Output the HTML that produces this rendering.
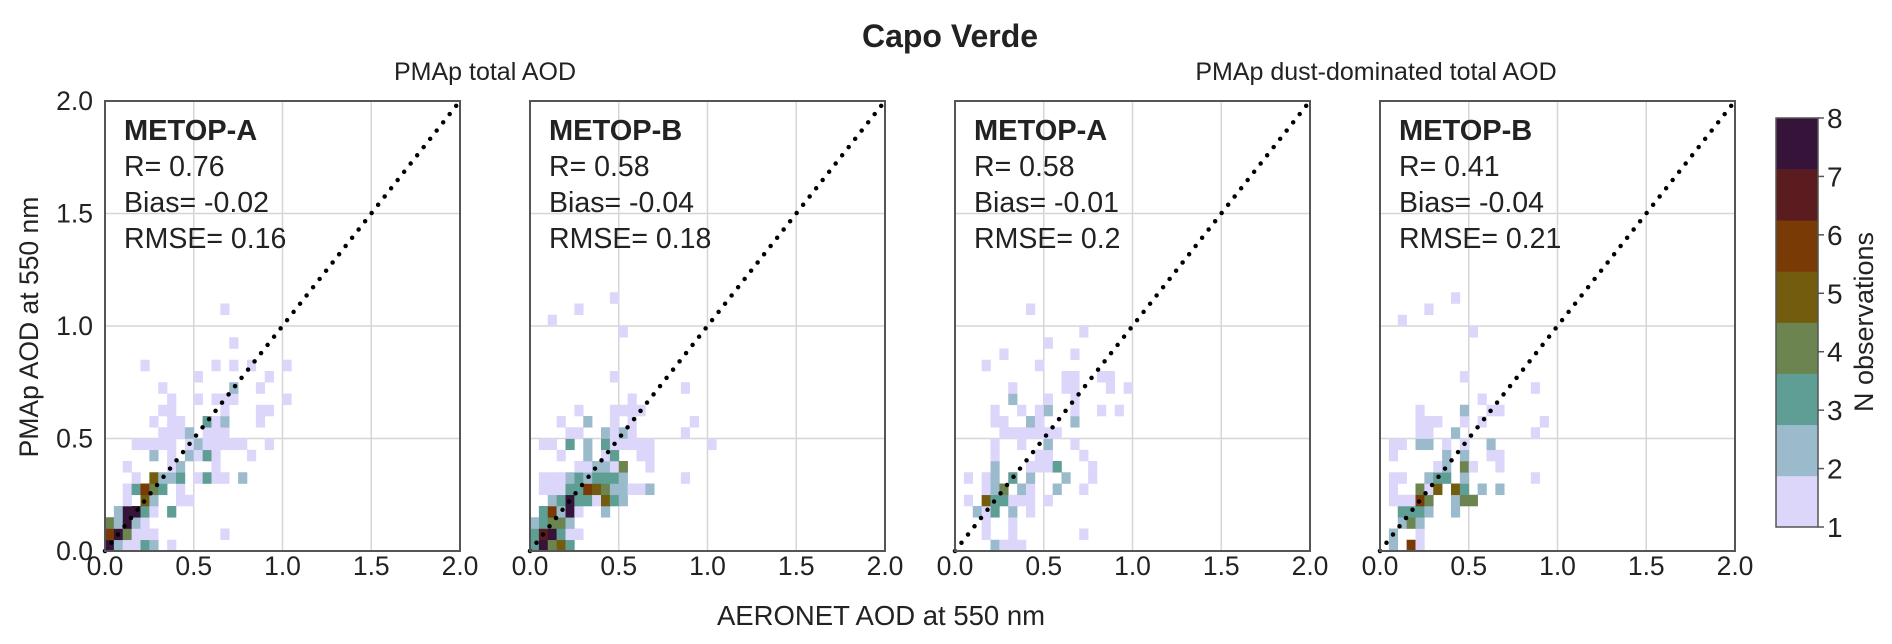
<!DOCTYPE html>
<html><head><meta charset="utf-8"><style>
body{margin:0;background:#fff;}
svg{display:block;font-family:"Liberation Sans",Arial,sans-serif;}
</style></head><body>
<svg id="fig" width="1892" height="644" viewBox="0 0 1892 644" xmlns="http://www.w3.org/2000/svg">
<text x="950" y="47" font-size="32" font-weight="bold" text-anchor="middle" fill="#222">Capo Verde</text>
<text x="485" y="80" font-size="25" text-anchor="middle" fill="#222">PMAp total AOD</text>
<text x="1376" y="80" font-size="25" text-anchor="middle" fill="#222">PMAp dust-dominated total AOD</text>
<text x="881" y="625" font-size="27.5" text-anchor="middle" fill="#222">AERONET AOD at 550 nm</text>
<text transform="translate(38,327) rotate(-90)" font-size="26.5" text-anchor="middle" fill="#222">PMAp AOD at 550 nm</text>
<g id="panels"></g>
<g id="cbar"></g>
</svg>
<script>
const binSize = 0.05;
const axisTicks = [0, 0.5, 1.0, 1.5, 2.0];
const tickLabels = ["0.0", "0.5", "1.0", "1.5", "2.0"];
const panelSats = ["METOP-A", "METOP-B", "METOP-A", "METOP-B"];
const panelR = ["0.76", "0.58", "0.58", "0.41"];
const panelBias = ["-0.02", "-0.04", "-0.01", "-0.04"];
const panelRMSE = ["0.16", "0.18", "0.2", "0.21"];
const cbarLevels = [1,2,3,4,5,6,7,8];
const cbarColors = ["#dcd6fb","#9bbbcd","#5f9e94","#6b8450","#735c0e","#7a3a05","#5a1c1e","#36143a"];
// cells: [x-bin index, y-bin index, count]
const cellsP1 = [[0,0,8],[1,0,2],[2,0,1],[3,0,1],[4,0,3],[5,0,2],[7,0,1],
[0,1,6],[1,1,8],[2,1,4],[3,1,1],[4,1,1],[5,1,1],[13,1,1],
[0,2,4],[1,2,2],[2,2,8],[3,2,2],[4,2,1],
[1,3,2],[2,3,8],[3,3,8],[4,3,3],[5,3,1],[7,3,3],
[2,4,1],[4,4,5],[5,4,2],[8,4,1],[9,4,1],
[2,5,1],[3,5,3],[4,5,6],[5,5,4],[6,5,3],[8,5,1],
[3,6,1],[5,6,5],[6,6,2],[7,6,2],[8,6,3],[10,6,1],[11,6,3],[12,6,1],[13,6,1],[15,6,2],
[2,7,1],[7,7,1],[8,7,2],[12,7,1],
[5,8,2],[7,8,1],[9,8,2],[10,8,1],[11,8,3],[12,8,1],[16,8,1],
[3,9,1],[4,9,1],[5,9,1],[6,9,1],[7,9,1],[9,9,1],[10,9,2],[11,9,1],[12,9,1],[13,9,1],[14,9,1],[15,9,1],[18,9,1],
[6,10,1],[7,10,1],[8,10,1],[9,10,2],[11,10,1],[12,10,1],[13,10,1],
[5,11,1],[7,11,1],[8,11,1],[11,11,3],[12,11,1],[13,11,2],[17,11,1],
[6,12,1],[7,12,1],[13,12,1],[17,12,1],[18,12,1],
[7,13,1],[10,13,1],[12,13,1],[13,13,1],[14,13,1],[20,13,1],
[6,14,1],[14,14,2],[17,14,1],
[10,15,1],[18,15,1],
[4,16,1],[12,16,1],[14,16,1],[16,16,1],[20,16,1],
[14,18,1],[13,21,1]];
const cellsP2 = [[0,0,3],[1,0,8],[2,0,4],[3,0,5],[4,0,3],
[0,1,3],[1,1,7],[2,1,8],[3,1,3],[4,1,1],[5,1,1],
[0,2,2],[1,2,3],[2,2,4],[3,2,4],[4,2,2],
[1,3,3],[2,3,6],[3,3,2],[4,3,8],[5,3,1],[8,3,2],
[2,4,2],[3,4,3],[4,4,8],[5,4,3],[6,4,3],[7,4,1],[8,4,5],[9,4,3],[10,4,2],
[1,5,1],[2,5,1],[3,5,1],[4,5,3],[5,5,3],[6,5,6],[7,5,5],[8,5,4],[9,5,2],[10,5,2],[11,5,1],[12,5,1],[13,5,2],
[1,6,1],[2,6,1],[3,6,1],[4,6,2],[5,6,3],[6,6,2],[7,6,3],[8,6,3],[9,6,3],[10,6,2],[17,6,1],
[5,7,1],[6,7,1],[7,7,2],[8,7,2],[9,7,1],[10,7,4],[13,7,1],
[3,8,1],[6,8,2],[8,8,1],[9,8,3],[12,8,1],[13,8,1],
[1,9,1],[2,9,1],[4,9,3],[6,9,2],[8,9,3],[9,9,1],[10,9,1],[11,9,1],[12,9,1],[13,9,1],[20,9,1],
[4,10,1],[5,10,1],[8,10,2],[9,10,1],[10,10,2],[11,10,1],[17,10,1],
[3,11,1],[6,11,2],[9,11,1],[11,11,1],[18,11,1],
[5,12,1],[9,12,1],[10,12,1],[11,12,1],[12,12,1],
[11,13,1],[17,14,1],[9,15,1],[10,19,1],[2,20,1],[5,21,1],[9,22,1]];
const cellsP3 = [[4,0,2],[5,0,1],[6,0,1],[7,0,1],
[3,1,1],[6,1,1],[14,1,1],
[3,2,1],[6,2,1],
[2,3,2],[3,3,1],[4,3,3],[6,3,2],[8,3,1],
[1,4,1],[3,4,5],[4,4,3],[5,4,3],[6,4,1],[7,4,1],[8,4,1],[10,4,1],
[3,5,1],[4,5,2],[5,5,4],[7,5,2],[8,5,1],[11,5,2],[14,5,1],
[1,6,1],[3,6,1],[4,6,2],[6,6,3],[8,6,2],[12,6,2],[15,6,1],
[4,7,2],[8,7,1],[9,7,1],[10,7,1],[11,7,3],[15,7,1],
[4,8,1],[9,8,1],[10,8,1],[14,8,1],
[4,9,1],[7,9,1],[10,9,2],[13,9,1],
[5,10,1],[6,10,1],[7,10,1],[8,10,1],[9,10,1],[10,10,1],[11,10,1],
[4,11,1],[5,11,1],[8,11,2],[9,11,1],[13,11,2],
[4,12,1],[7,12,1],[9,12,1],[10,12,2],[13,12,1],[16,12,1],[18,12,1],
[6,13,2],[10,13,1],[13,13,1],
[6,14,1],[12,14,1],[13,14,1],[17,14,1],[19,14,1],
[12,15,1],[13,15,1],[16,15,1],[17,15,1],
[3,16,1],[9,16,1],[5,17,1],[13,17,1],[10,18,1],[14,19,1],[8,21,1]];
const cellsP4 = [[1,0,2],[3,0,6],[4,0,1],
[1,1,2],[4,1,1],
[2,2,2],[3,2,4],[4,2,2],
[2,3,3],[3,3,3],[4,3,3],[5,3,2],[8,3,2],
[1,4,1],[2,4,1],[3,4,1],[4,4,6],[5,4,4],[8,4,2],[9,4,4],[10,4,4],
[1,5,1],[4,5,4],[5,5,1],[6,5,5],[8,5,5],[9,5,3],[11,5,2],[13,5,2],
[1,6,1],[2,6,1],[5,6,2],[6,6,3],[7,6,3],[9,6,2],[17,6,1],
[6,7,1],[7,7,2],[9,7,4],[10,7,1],[13,7,1],
[1,8,1],[7,8,2],[9,8,2],[12,8,1],[13,8,1],
[1,9,1],[2,9,1],[4,9,2],[5,9,2],[7,9,1],[9,9,1],[12,9,2],
[4,10,1],[5,10,1],[8,10,2],[17,10,1],
[4,11,1],[5,11,1],[6,11,1],[9,11,1],[11,11,1],[18,11,1],
[4,12,1],[9,12,2],[12,12,1],[13,12,1],
[11,13,1],[17,14,1],[9,15,1],[10,19,1],[2,20,1],[5,21,1],[8,22,1]];
const panelCells = [cellsP1, cellsP2, cellsP3, cellsP4];

const NS = "http://www.w3.org/2000/svg";
function mk(tag, attrs, parent){const e=document.createElementNS(NS,tag);for(const k in attrs)e.setAttribute(k,attrs[k]);parent.appendChild(e);return e;}
const panelLefts = [105, 530, 955, 1380];
const PW = 355, PT = 101, PB = 551, PH = PB-PT;
const VMAX = 2.0;
const root = document.getElementById('panels');
panelLefts.forEach((L, p) => {
  const xs = v => L + v / VMAX * PW;
  const ys = v => PB - v / VMAX * PH;
  const g = mk('g', {}, root);
  
  
  axisTicks.forEach((t, k) => {
    if (k > 0 && k < axisTicks.length-1) {
      const gx = mk('line', {x1:xs(t), x2:xs(t), y1:PT, y2:PB, stroke:'#d6d6d6', 'stroke-width':1.5}, g);
      
      
      const gy = mk('line', {x1:L, x2:L+PW, y1:ys(t), y2:ys(t), stroke:'#d6d6d6', 'stroke-width':1.5}, g);
      
      
    }
    const tx = mk('text', {x:xs(t), y:575, 'font-size':26.5, 'text-anchor':'middle', fill:'#222'}, g);
    tx.textContent = tickLabels[k];
    
    
    if (p === 0) {
      const ty = mk('text', {x:L-12, y:ys(t)+9, 'font-size':26.5, 'text-anchor':'end', fill:'#222'}, g);
      ty.textContent = tickLabels[k];
      
      
    }
  });
  panelCells[p].forEach(c => {
    const x0 = c[0]*binSize, y0 = c[1]*binSize;
    const r = mk('rect', {x:xs(x0), y:ys(y0+binSize), width:xs(x0+binSize)-xs(x0)+0.3, height:ys(y0)-ys(y0+binSize)+0.3, fill:cbarColors[Math.min(c[2],8)-1]}, g);
    
    
  });
  const d = mk('line', {x1:xs(0), y1:ys(0), x2:xs(2), y2:ys(2), stroke:'#000', 'stroke-width':4.5, 'stroke-linecap':'round', 'stroke-dasharray':'0 10.5'}, g);
  
  
  const fr = mk('rect', {x:L, y:PT, width:PW, height:PH, fill:'none', stroke:'#555', 'stroke-width':2}, g);
  
  
  const lines = [panelSats[p], 'R= ' + panelR[p], 'Bias= ' + panelBias[p], 'RMSE= ' + panelRMSE[p]];
  const names = ['satellite-label','r-stat','bias-stat','rmse-stat'];
  lines.forEach((s, k) => {
    const t = mk('text', {x:L+19, y:PT+39+k*36, 'font-size':k===0?29:28.5, 'font-weight':k===0?'bold':'normal', fill:'#222'}, g);
    t.textContent = s;
    
    
  });
});
// colorbar
const cb = document.getElementById('cbar');
const CX = 1776, CW = 42, CT = 118, CB = 527;
const cy = v => CB - (v-1)/7*(CB-CT);
const nb = cbarColors.length;
cbarColors.forEach((col, k) => {
  const h = (CB-CT)/nb;
  const r = mk('rect', {x:CX, y:CB-(k+1)*h, width:CW, height:h+0.3, fill:col}, cb);
  
  
});
const cf = mk('rect', {x:CX, y:CT, width:CW, height:CB-CT, fill:'none', stroke:'#555', 'stroke-width':1.5}, cb);


cbarLevels.forEach(v => {
  const tk = mk('line', {x1:CX+CW, x2:CX+CW+6, y1:cy(v), y2:cy(v), stroke:'#555', 'stroke-width':1.5}, cb);
  
  
  const t = mk('text', {x:CX+CW+9, y:cy(v)+10, 'font-size':28, fill:'#222'}, cb);
  t.textContent = v;
  
  
});
const ct = mk('text', {transform:'translate(1873,322) rotate(-90)', 'font-size':27, 'text-anchor':'middle', fill:'#222'}, cb);
ct.textContent = 'N observations';


</script>
</body></html>
